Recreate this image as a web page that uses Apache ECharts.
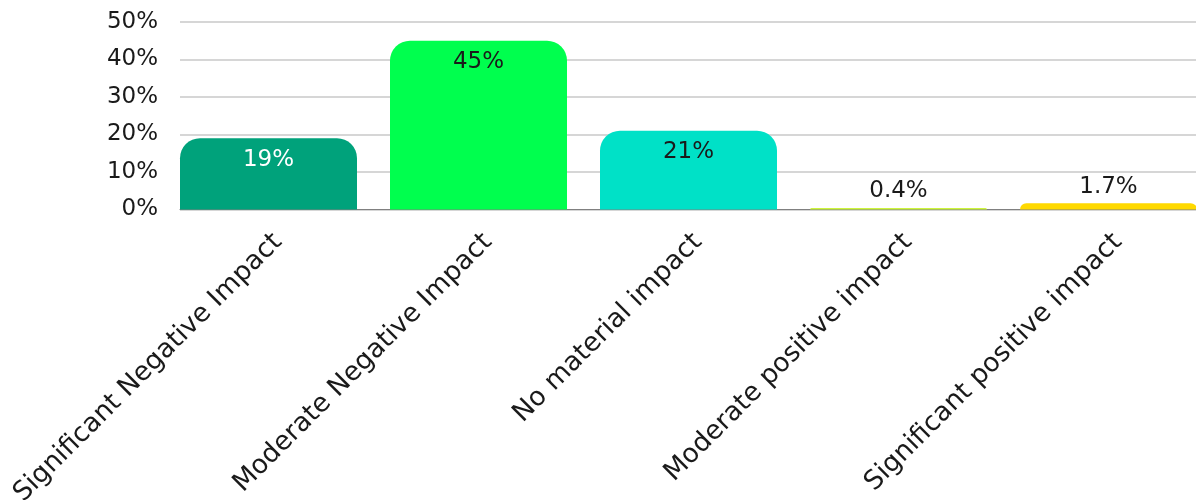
<!DOCTYPE html>
<html>
<head>
<meta charset="utf-8">
<script src="https://cdn.jsdelivr.net/npm/echarts@6/dist/echarts.min.js"></script>
<style>
    html, body { margin: 0; padding: 0; background: #fff; }
    #chart { width: 1196px; height: 500px; }
</style>
</head>
<body>
<div id="chart"></div>
<script>
const categories = [
    'Significant Negative Impact',
    'Moderate Negative Impact',
    'No material impact',
    'Moderate positive impact',
    'Significant positive impact'
]
const values = [19, 45, 21, 0.4, 1.7]
const valueLabels = ['19%', '45%', '21%', '0.4%', '1.7%']
const yTicks = [0, 10, 20, 30, 40, 50]

const palette = ['#00a27b', '#00ff4e', '#00e1c7', '#cdf53c', '#ffd900']
const labelColors = ['#ffffff', '#1a1a1a', '#1a1a1a', '#1a1a1a', '#1a1a1a']
const font = '"DejaVu Sans", sans-serif'

const chart = echarts.init(document.getElementById('chart'))

const option = {
    animation: false,
    grid: [
        // bars: category slots are 210px wide, first slot starts left of the plot
        { left: 163.5, width: 1050, top: 22, bottom: 290.5, outerBoundsMode: 'none' },
        // gridlines + y labels
        { left: 180, right: 0, top: 22, bottom: 290.5, outerBoundsMode: 'none' }
    ],
    xAxis: [
        {
            gridIndex: 0,
            type: 'category',
            data: categories,
            axisLine: { show: false },
            axisTick: { show: false },
            axisLabel: {
                rotate: 45,
                interval: 0,
                margin: 19,
                verticalAlign: 'top',
                color: '#1a1a1a',
                fontSize: 26.5,
                fontFamily: font
            }
        },
        {
            gridIndex: 1,
            type: 'category',
            data: categories,
            axisLine: { show: true, lineStyle: { color: '#808080', width: 1 } },
            axisTick: { show: false },
            axisLabel: { show: false }
        }
    ],
    yAxis: [
        {
            gridIndex: 0,
            type: 'value',
            min: 0,
            max: 50,
            show: false
        },
        {
            gridIndex: 1,
            type: 'value',
            min: yTicks[0],
            max: yTicks[yTicks.length - 1],
            interval: 10,
            axisLine: { show: false },
            axisTick: { show: false },
            splitLine: { lineStyle: { color: '#c8c8c8', width: 1.5 } },
            axisLabel: {
                margin: 22,
                color: '#1a1a1a',
                fontSize: 23,
                fontFamily: font,
                formatter: v => v + '%'
            }
        }
    ],
    series: [
        {
            type: 'bar',
            xAxisIndex: 0,
            yAxisIndex: 0,
            barWidth: 177,
            z: 3,
            data: values.map((v, i) => ({
                value: v,
                itemStyle: { color: palette[i], borderRadius: [20, 20, 0, 0] },
                label: {
                    show: true,
                    position: v < 5 ? 'top' : 'insideTop',
                    distance: v < 5 ? 5 : 10,
                    color: labelColors[i],
                    fontSize: 23,
                    fontFamily: font,
                    formatter: () => valueLabels[i]
                }
            }))
        }
    ]
}

chart.setOption(option)
</script>
</body>
</html>
